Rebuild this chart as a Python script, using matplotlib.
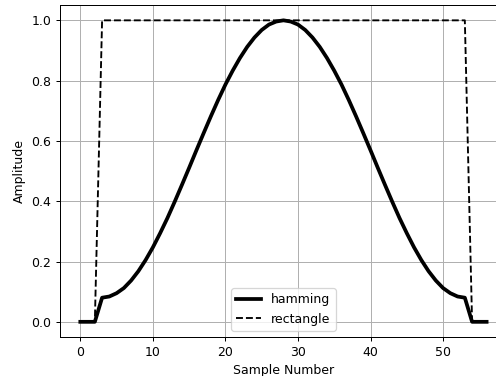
import numpy as np
import matplotlib
matplotlib.use('Agg')
import matplotlib.pyplot as plt

# Sample index (3 zeros of padding each side of a 51-point window)
samples = list(range(57))

# Hamming window values, padded with zeros
half = [0.080, 0.084, 0.095, 0.112, 0.137, 0.168, 0.205, 0.247, 0.294,
        0.344, 0.398, 0.454, 0.511, 0.569, 0.626, 0.682, 0.736, 0.787,
        0.833, 0.875, 0.912, 0.943, 0.968, 0.986, 0.996]
hamming = [0, 0, 0] + half + [1.0] + half[::-1] + [0, 0, 0]

# Rectangle window
rectangle = [0, 0, 0] + [1] * 51 + [0, 0, 0]

# reference looks like it was drawn at ~90 dpi, so keep pixels the same
dpi = 90
fig, ax = plt.subplots(figsize=(496 / dpi, 376 / dpi), dpi=dpi)
# the reference is cropped on the right, so the axes run past the edge
ax.set_position([0.121, 0.104, 0.901, 0.882])

ax.plot(samples, hamming, 'k-', linewidth=3, label='hamming')
ax.plot(samples, rectangle, 'k--', linewidth=1.5, label='rectangle')

ax.set_xlabel('Sample Number')
ax.set_ylabel('Amplitude')
ax.grid(True)
ax.legend(loc='lower center')

fig.savefig('out.png', dpi=dpi)
